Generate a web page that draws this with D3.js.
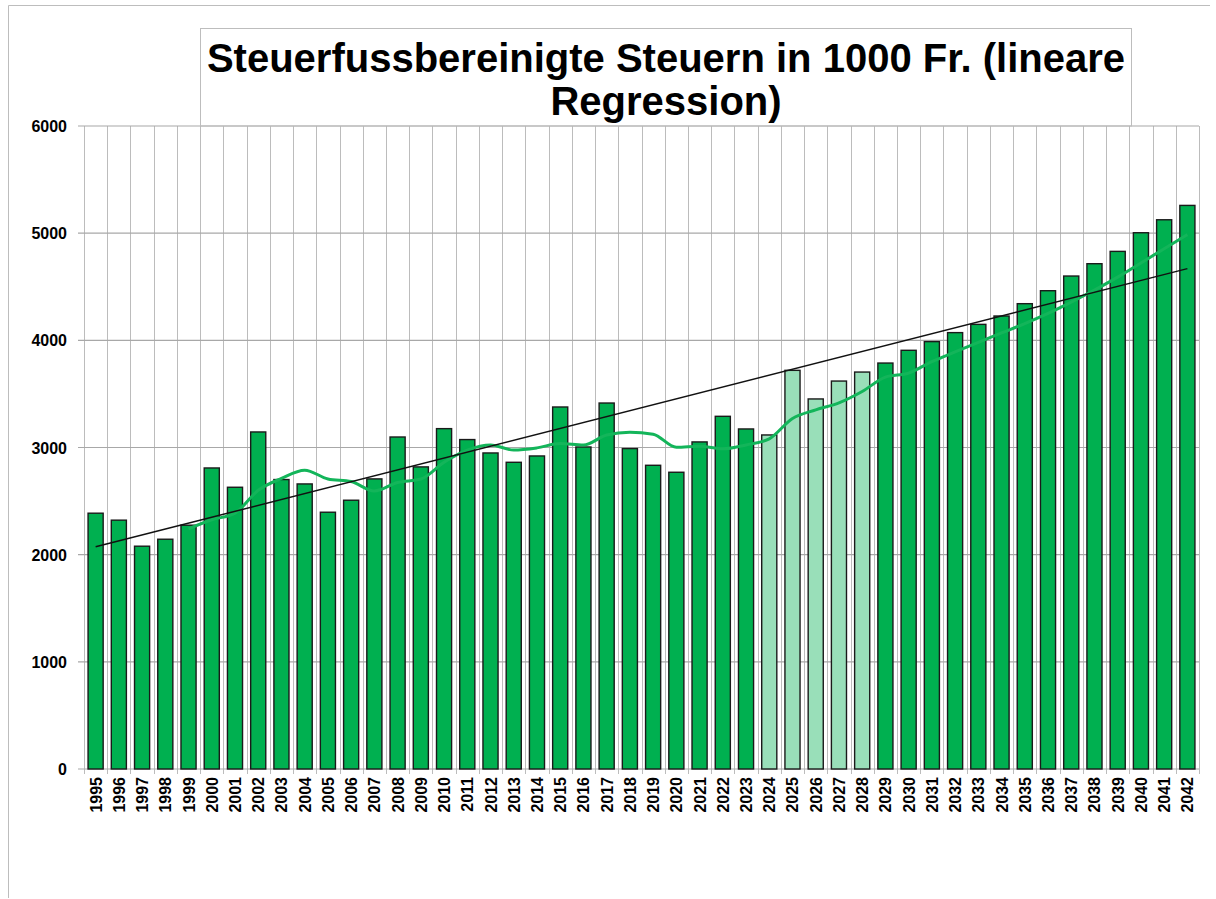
<!DOCTYPE html>
<html>
<head>
<meta charset="utf-8">
<script src="https://cdn.jsdelivr.net/npm/d3@7"></script>
<style>
  body { margin: 0; background: #fff; }
  svg { display: block; font-family: "Liberation Sans", Arial, sans-serif; }
</style>
</head>
<body>
<div id="chart"></div>
<script>
// data
const years = d3.range(1995, 2043).map(String);
const taxes = [
  2387, 2322, 2079, 2144, 2275, 2809, 2629, 3145, 2701, 2660,
  2396, 2508, 2707, 3098, 2819, 3176, 3074, 2949, 2862, 2921,
  3378, 3005, 3415, 2990, 2834, 2769, 3052, 3291, 3173, 3117,
  3720, 3453, 3620, 3704, 3788, 3907, 3988, 4072, 4149, 4227,
  4342, 4463, 4600, 4715, 4830, 5004, 5125, 5259
];
const lightYears = ['2024', '2025', '2026', '2027', '2028'];
const trendEnds = [2073, 4669]; // regression line at 1995 and 2042
const yTicks = [0, 1000, 2000, 3000, 4000, 5000, 6000];
const maWindow = 5;

const width = 1216;
const height = 899;
const plot = { left: 84, right: 1199, top: 126, bottom: 769 };

const svg = d3
  .select('#chart')
  .append('svg')
  .attr('width', width)
  .attr('height', height);

// outer frame (top + left edge only visible)
svg.append('path')
  .attr('d', 'M8.5,898 V5.5 H1210')
  .attr('fill', 'none')
  .attr('stroke', '#bdbdbd')
  .attr('stroke-width', 1);

const x = d3.scaleBand()
  .domain(years)
  .range([plot.left, plot.right])
  .paddingInner(0.35)
  .paddingOuter(0.175);

const y = d3.scaleLinear()
  .domain([0, 6000])
  .range([plot.bottom, plot.top]);

const step = x.step();

// vertical grid at slot edges
svg.append('g')
  .attr('stroke', '#bcbcbc')
  .attr('stroke-width', 1)
  .selectAll('line')
  .data(d3.range(years.length + 1))
  .join('line')
  .attr('x1', (i) => Math.round(plot.left + i * step) + 0.5)
  .attr('x2', (i) => Math.round(plot.left + i * step) + 0.5)
  .attr('y1', plot.top)
  .attr('y2', plot.bottom + 5);

// horizontal grid
svg.append('g')
  .attr('stroke', '#a8a8a8')
  .attr('stroke-width', 1.2)
  .selectAll('line')
  .data(yTicks)
  .join('line')
  .attr('x1', plot.left - 6)
  .attr('x2', plot.right)
  .attr('y1', (d) => y(d))
  .attr('y2', (d) => y(d));

// title box
svg.append('rect')
  .attr('x', 200.5)
  .attr('y', 28.5)
  .attr('width', 931)
  .attr('height', plot.top - 28.5)
  .attr('fill', 'none')
  .attr('stroke', '#bdbdbd');

const title = svg.append('text')
  .attr('text-anchor', 'middle')
  .attr('font-weight', 'bold')
  .attr('font-size', 40)
  .attr('fill', '#000');
title.append('tspan').attr('x', 666).attr('y', 72).text('Steuerfussbereinigte Steuern in 1000 Fr. (lineare');
title.append('tspan').attr('x', 666).attr('y', 115).text('Regression)');

// bars
svg.append('g')
  .selectAll('rect')
  .data(years)
  .join('rect')
  .attr('x', (d) => x(d))
  .attr('width', x.bandwidth())
  .attr('y', (d, i) => y(taxes[i]))
  .attr('height', (d, i) => y(0) - y(taxes[i]))
  .attr('fill', (d) => (lightYears.includes(d) ? '#99dfb9' : '#00b050'))
  .attr('stroke', '#1a1a1a')
  .attr('stroke-width', 1.4);

// moving average (5 years)
const ma = [];
for (let i = maWindow - 1; i < taxes.length; i++) {
  ma.push({ year: years[i], v: d3.mean(taxes.slice(i - maWindow + 1, i + 1)) });
}
svg.append('path')
  .datum(ma)
  .attr('fill', 'none')
  .attr('stroke', '#13b55a')
  .attr('stroke-width', 3)
  .attr('stroke-linejoin', 'round')
  .attr('d', d3.line()
    .x((d) => x(d.year) + x.bandwidth() / 2)
    .y((d) => y(d.v))
    .curve(d3.curveMonotoneX));

// linear regression line
svg.append('line')
  .attr('x1', x(years[0]) + x.bandwidth() / 2)
  .attr('x2', x(years[years.length - 1]) + x.bandwidth() / 2)
  .attr('y1', y(trendEnds[0]))
  .attr('y2', y(trendEnds[1]))
  .attr('stroke', '#111')
  .attr('stroke-width', 1.5);

// y axis labels
svg.append('g')
  .selectAll('text')
  .data(yTicks)
  .join('text')
  .attr('x', 67)
  .attr('y', (d) => y(d) + 6)
  .attr('text-anchor', 'end')
  .attr('font-size', 16)
  .attr('font-weight', 'bold')
  .text((d) => d);

// x axis labels (rotated)
svg.append('g')
  .selectAll('text')
  .data(years)
  .join('text')
  .attr('transform', (d) => `translate(${x(d) + x.bandwidth() / 2 + 6},${plot.bottom + 8}) rotate(-90)`)
  .attr('text-anchor', 'end')
  .attr('font-size', 16)
  .attr('font-weight', 'bold')
  .text((d) => d);
</script>
</body>
</html>
